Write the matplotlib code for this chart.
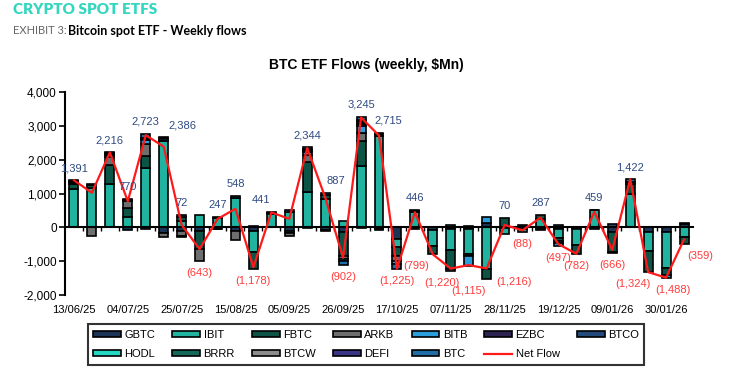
import numpy as np
import pandas as pd
import matplotlib
matplotlib.use("Agg")
import matplotlib.pyplot as plt
from matplotlib.patches import Patch
from matplotlib.lines import Line2D
from matplotlib.ticker import FixedLocator, FuncFormatter

plt.rcParams['font.family'] = ['Liberation Sans', 'DejaVu Sans']

# weekly dates (Friday), 35 weeks from 13/06/25
weeks = pd.date_range("2025-06-13", periods=35, freq="7D")

# net weekly flow, $Mn (read from labels; #2 and #13 unlabelled, estimated)
net = [1391, 1020, 2216, 770, 2723, 2386, 72, -643, 247, 548, -1178, 441, 250,
       2344, 887, -902, 3245, 2715, -1225, 446, -799, -1220, -1115, -1216, 70,
       -88, 287, -497, -782, 459, -666, 1422, -1324, -1488, -359]
hide_label = {1, 12}

# per-ETF flows, $Mn (estimated from bar segments)
gbtc = [0, 0, 0, -80, -40, -180, -100, -100, -40, -120, -100, 0, -120,
        -20, -80, -150, -20, -60, -340, -60, -80, -50, -60, 120, -20,
        -40, -50, -60, -60, -60, -150, 0, -150, -150, 100]
ibit = [1130, 1150, 1290, 320, 1760, 2560, 200, 360, 280, 870, -620, 380, 450,
        1050, 850, 200, 1810, 2700, -250, 450, -480, -630, -720, -1236, -180,
        -108, 250, -260, -450, 500, 0, 980, -560, -1050, -300]
fbtc = [150, 90, 540, 250, 360, 30, 100, -550, 30, 50, -498, 40, -50,
        880, 100, -700, 740, 50, -250, 40, -239, -550, -80, -300, 270,
        60, 120, -90, -272, 0, -580, 300, -614, -200, -199]
arkb = [0, -250, 250, 200, 340, -100, -150, -353, -23, -252, 0, 0, -80,
        200, -40, -100, 250, 0, -150, 0, 0, -50, 0, 0, 0,
        0, -33, -50, 0, 0, -36, 60, 0, 0, 0]
bitb = [40, 20, 60, 40, 110, 50, -38, 0, 0, 0, 40, 21, 0,
        100, 0, -52, 200, -20, -100, 0, 0, 0, -285, 200, 0,
        0, 0, -97, 0, 0, 0, 0, 0, -88, 0]
ezbc = [10] + [0] * 34
btco = [15, 0, 20, 0, 30, 0, 0, 0, 0, 0, 0, 0, 0,
        30, 0, 0, 40, 0, 0, 0, 0, 0, 0, 0, 0,
        0, 0, 0, 0, 0, 100, 0, 0, 0, 0]
hodl = [20, 0, 15, 0, 40, 0, 0, 0, 0, 0, 0, 0, 0,
        30, 0, 0, 50, 0, 0, 0, 0, 0, 0, 0, 0,
        0, 0, 0, 0, 0, 0, 0, 0, 0, 0]
brrr = [10, 0, 11, 0, 0, 0, 0, 0, 0, 0, 0, 0, 0,
        24, 0, 0, 40, 0, 0, 0, 0, 0, 0, 0, 0,
        0, 0, 0, 0, 0, 0, 0, 0, 0, 0]
btcw = [0] * 16 + [30] + [0] * 18
defi = [0] * 35
btc = [16, 10, 30, 40, 123, 26, 60, 0, 0, 0, 0, 0, 50,
       50, 57, -100, 105, 45, -135, 16, 0, 60, 30, 0, 0,
       0, 0, 60, 0, 19, 0, 82, 0, 0, 40]

series = [
    ("GBTC", gbtc, "#1c3557"),
    ("IBIT", ibit, "#1fb3a0"),
    ("FBTC", fbtc, "#0b5446"),
    ("ARKB", arkb, "#6e6e6e"),
    ("BITB", bitb, "#2b9fdc"),
    ("EZBC", ezbc, "#2c2350"),
    ("BTCO", btco, "#234a7c"),
    ("HODL", hodl, "#25d8c4"),
    ("BRRR", brrr, "#12695a"),
    ("BTCW", btcw, "#8c8c8c"),
    ("DEFI", defi, "#3b3585"),
    ("BTC", btc, "#1f6ea6"),
]

# label nudges in pixels (dx, dy) where labels were moved to avoid overlap
nudge = {5: (19, 0), 11: (-10, 0), 14: (11, 0), 17: (9, 0), 20: (-17, 0),
         21: (-9, 0), 22: (0, -13), 23: (27, 9), 32: (-15, 0), 33: (7, 0),
         34: (16, 0)}

fig = plt.figure(figsize=(7.43, 3.72), dpi=100)
ax = fig.add_axes([65 / 743, 77 / 372, 628 / 743, 203 / 372])

x = np.arange(len(net))
pos_base = np.zeros(len(x))
neg_base = np.zeros(len(x))
for name, vals, col in series:
    v = np.array(vals, dtype=float)
    m = v > 0
    if m.any():
        ax.bar(x[m], v[m], bottom=pos_base[m], width=0.5, color=col,
               edgecolor="black", linewidth=1.2, zorder=2)
    n = v < 0
    if n.any():
        ax.bar(x[n], v[n], bottom=neg_base[n], width=0.5, color=col,
               edgecolor="black", linewidth=1.2, zorder=2)
    pos_base += np.where(m, v, 0)
    neg_base += np.where(n, v, 0)

ax.plot(x, net, color="#ff1a1a", lw=1.6, zorder=4)

# data labels
for i, val in enumerate(net):
    if i in hide_label:
        continue
    dx, dy = nudge.get(i, (0, 0))
    if val >= 0:
        anchor = max(pos_base[i], val)
        txt, col, va, off = f"{val:,}", "#2e4a82", "bottom", 7
    else:
        anchor = min(neg_base[i], val)
        txt, col, va, off = f"({-val:,})", "#ff3b3b", "top", -7
    ax.annotate(txt, (i, anchor), xytext=(dx, off + dy), textcoords="offset pixels",
                ha="center", va=va, fontsize=8, color=col, zorder=6)

ax.set_xlim(-0.5, len(x) - 0.5)
ax.set_ylim(-2000, 4000)
ax.set_yticks(np.arange(-2000, 4001, 1000))
ax.yaxis.set_major_formatter(FuncFormatter(lambda v, p: f"{v:,.0f}"))
ax.tick_params(axis="y", labelsize=8.5, length=4, width=1.2, pad=2)

for s in ["top", "right"]:
    ax.spines[s].set_visible(False)
ax.spines["left"].set_linewidth(1.5)
ax.spines["bottom"].set_position(("data", 0))
ax.spines["bottom"].set_linewidth(1.5)
ax.spines["bottom"].set_zorder(3)
ax.set_xticks([])
ax.xaxis.set_minor_locator(FixedLocator(np.arange(0.5, len(x) - 1, 1)))
ax.tick_params(axis="x", which="minor", length=3, width=1, direction="out")

sec = ax.secondary_xaxis(0)
tick_idx = list(range(0, len(x), 3))
sec.set_xticks(tick_idx, labels=[weeks[i].strftime("%d/%m/%y") for i in tick_idx])
sec.spines["bottom"].set_visible(False)
sec.tick_params(length=0, pad=7, labelsize=8)

# title and header
fig.text(366 / 743, 1 - 65 / 372, "BTC ETF Flows (weekly, $Mn)", ha="center",
         va="center", fontsize=10, fontweight="bold")
fig.text(13 / 743, 1 - 10 / 372, "CRYPTO SPOT ETFS", ha="left", va="center",
         fontsize=11, fontweight="heavy", color="#33d6bf", family=["Lato", "DejaVu Sans"])
fig.text(13 / 743, 1 - 31 / 372, "EXHIBIT 3:", ha="left", va="center",
         fontsize=8, color="#666666", family=["Lato", "DejaVu Sans"])
fig.text(68 / 743, 1 - 31 / 372, "Bitcoin spot ETF - Weekly flows", ha="left", va="center",
         fontsize=9, fontweight="bold", color="black", family=["Lato", "DejaVu Sans"])

# legend (column-major order to get the two rows)
handles = {name: Patch(facecolor=col, edgecolor="black", linewidth=1.2)
           for name, _, col in series}
handles["Net Flow"] = Line2D([0], [0], color="#ff1a1a", lw=1.6)
order = ["GBTC", "HODL", "IBIT", "BRRR", "FBTC", "BTCW", "ARKB", "DEFI",
         "BITB", "BTC", "EZBC", "Net Flow", "BTCO"]
leg = fig.legend([handles[k] for k in order], order, ncol=7, loc="center",
                 bbox_to_anchor=(366 / 743, 1 - 344.5 / 372), fontsize=8,
                 frameon=True, fancybox=False, handlelength=2.5, handleheight=0.45,
                 handletextpad=0.3, columnspacing=1.55, labelspacing=0.85,
                 borderpad=0.5)
leg.get_frame().set_edgecolor("black")
leg.get_frame().set_linewidth(1.5)

fig.savefig("out.png", dpi=100)
